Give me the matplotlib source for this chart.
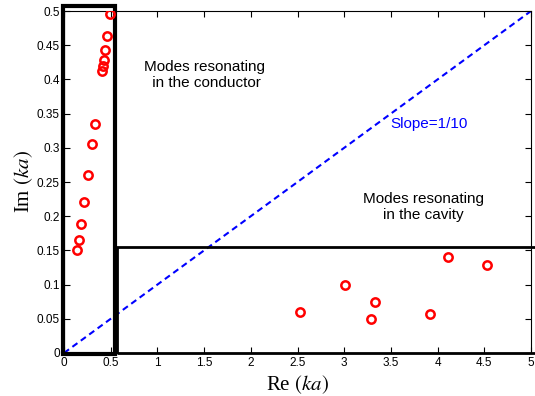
import numpy as np
import matplotlib.pyplot as plt
from matplotlib.patches import Rectangle

# modes resonating in the conductor
re_cond = [0.49, 0.457, 0.44, 0.425, 0.414, 0.41, 0.328, 0.303, 0.257, 0.214, 0.182, 0.157, 0.139]
im_cond = [0.496, 0.463, 0.443, 0.428, 0.419, 0.413, 0.335, 0.306, 0.26, 0.221, 0.189, 0.165, 0.150]

# modes resonating in the cavity
re_cav = [2.53, 3.01, 3.29, 3.33, 3.92, 4.11, 4.53]
im_cav = [0.060, 0.099, 0.049, 0.074, 0.057, 0.141, 0.128]

slope = 0.1
x_ticks = np.arange(0, 5.01, 0.5)
y_ticks = np.arange(0, 0.501, 0.05)

plt.rcParams['font.family'] = ['Liberation Sans', 'DejaVu Sans']
plt.rcParams['mathtext.fontset'] = 'stix'

fig = plt.figure(figsize=(5.35, 3.96), dpi=100)
ax = fig.add_axes([0.1196, 0.1086, 0.873, 0.8636])

# slope line
xl = np.array([0, 5])
ax.plot(xl, slope * xl, '--', color='#0000ff', lw=1.5, dashes=(3, 2))

ax.plot(re_cond, im_cond, 'o', mfc='none', mec='#ff0000', mew=1.8, ms=6, zorder=6)
ax.plot(re_cav, im_cav, 'o', mfc='none', mec='#ff0000', mew=1.8, ms=6, zorder=6)

# boxes around the two groups
ax.add_patch(Rectangle((-0.01, -0.002), 0.556, 0.509, fill=False, lw=3,
                       ec='black', clip_on=False, zorder=5))
ax.add_patch(Rectangle((0.564, 0), 4.6, 0.155, fill=False, lw=2,
                       ec='black', clip_on=False, zorder=5))

ax.text(1.5, 0.407, 'Modes resonating\n in the conductor', fontsize=11,
        ha='center', va='center', linespacing=1.2)
ax.text(3.85, 0.213, 'Modes resonating\nin the cavity', fontsize=11,
        ha='center', va='center', linespacing=1.2)
ax.text(3.49, 0.335, 'Slope=1/10', fontsize=11, color='#0000ff',
        ha='left', va='center')

ax.set_xlim(0, 5)
ax.set_ylim(0, 0.5)
ax.set_xticks(x_ticks)
ax.set_yticks(y_ticks)
ax.set_xticklabels(['%g' % t for t in x_ticks])
ax.set_yticklabels(['%g' % t for t in y_ticks])
ax.tick_params(direction='in', top=True, right=True, labelsize=8.5, length=4, pad=3)

ax.set_xlabel('Re $(ka)$', family='Liberation Serif', fontsize=15, labelpad=3)
ax.set_ylabel('Im $(ka)$', family='Liberation Serif', fontsize=15, labelpad=1)

fig.savefig('out.png', dpi=100)
